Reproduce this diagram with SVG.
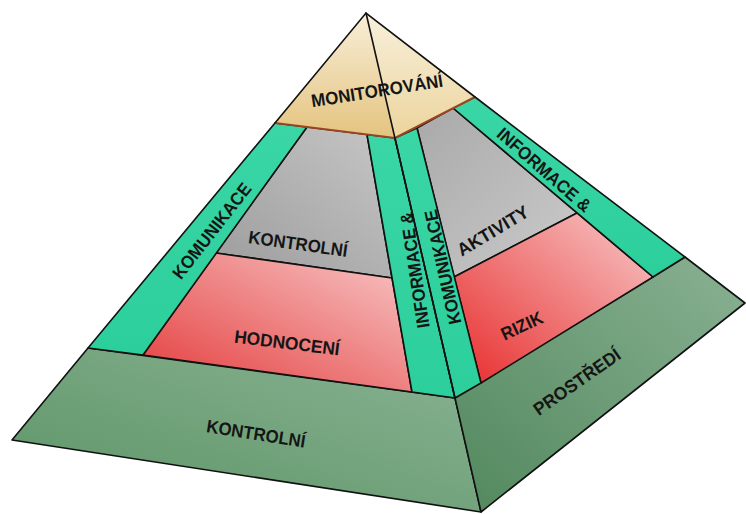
<svg xmlns="http://www.w3.org/2000/svg" width="746" height="514" viewBox="0 0 746 514">
<defs>
<linearGradient id="capL" x1="0" y1="0" x2="0" y2="1"><stop offset="0" stop-color="#f8eed8"/><stop offset="1" stop-color="#e4c37f"/></linearGradient>
<linearGradient id="capR" x1="0" y1="0" x2="0" y2="1"><stop offset="0" stop-color="#f8f0dc"/><stop offset="1" stop-color="#ecd49c"/></linearGradient>
<linearGradient id="greyL" x1="1" y1="0" x2="0" y2="1"><stop offset="0" stop-color="#c6c6c6"/><stop offset="1" stop-color="#9c9c9c"/></linearGradient>
<linearGradient id="greyR" x1="0" y1="0" x2="1" y2="1"><stop offset="0" stop-color="#a9a9a9"/><stop offset="1" stop-color="#cbcbcb"/></linearGradient>
<linearGradient id="redL" x1="0" y1="1" x2="1" y2="0"><stop offset="0" stop-color="#e43a3a"/><stop offset="1" stop-color="#f8c8c8"/></linearGradient>
<linearGradient id="redR" x1="0" y1="1" x2="1" y2="0"><stop offset="0" stop-color="#e82c2c"/><stop offset="1" stop-color="#f8caca"/></linearGradient>
<linearGradient id="baseF" x1="0" y1="1" x2="1" y2="0"><stop offset="0" stop-color="#5c9466"/><stop offset="1" stop-color="#8ab393"/></linearGradient>
<linearGradient id="baseR" x1="0" y1="1" x2="1" y2="0"><stop offset="0" stop-color="#52885d"/><stop offset="1" stop-color="#89b193"/></linearGradient>
<linearGradient id="strip" x1="0" y1="0" x2="0" y2="1"><stop offset="0" stop-color="#3ad6a6"/><stop offset="1" stop-color="#2ccf9b"/></linearGradient>
</defs>
<style>
.f{stroke:#111;stroke-width:1.6;stroke-linejoin:round}
.s{fill:url(#strip)}
.t{font-family:"Liberation Sans",Arial,sans-serif;font-weight:bold;fill:#151515;text-anchor:middle;dominant-baseline:central;font-size:18px}
.e{stroke:#111;stroke-width:1.6;fill:none;stroke-linecap:round}
</style>
<g id="base">
<polygon class="f" fill="url(#baseF)" points="88,348 455,398 481,512 12,440"/>
<polygon class="f" fill="url(#baseR)" points="455,398 685,257 745,303 481,512"/>
<text class="t" lengthAdjust="spacingAndGlyphs" textLength="100" transform="translate(256,434) rotate(9)">KONTROLNÍ</text>
<text class="t" font-size="19" lengthAdjust="spacingAndGlyphs" textLength="102" transform="translate(577,382) rotate(-35)">PROSTŘEDÍ</text>
</g>
<g id="left-face">
<polygon class="f" fill="url(#greyL)" points="307,127 367,134.5 392,278 216,253"/>
<polygon class="f" fill="url(#redL)" points="216,253 392,278 412,392 143,355"/>
<polygon class="f s" points="275,123 307,127 143,355 88,348"/>
<polygon class="f s" points="367,134.5 395,138 455,398 412,392"/>
<text class="t" lengthAdjust="spacingAndGlyphs" textLength="100" transform="translate(298,244) rotate(8)">KONTROLNÍ</text>
<text class="t" lengthAdjust="spacingAndGlyphs" textLength="106" transform="translate(287,343) rotate(7)">HODNOCENÍ</text>
<text class="t" lengthAdjust="spacingAndGlyphs" textLength="116" transform="translate(212,231) rotate(-52)">KOMUNIKACE</text>
<text class="t" lengthAdjust="spacingAndGlyphs" textLength="117" transform="translate(415,270) rotate(-98.6)">INFORMACE &amp;</text>
</g>
<g id="right-face">
<polygon class="f" fill="url(#greyR)" points="417,128 453,108 577,213 454,277"/>
<polygon class="f" fill="url(#redR)" points="454,277 577,213 653,277 481,383"/>
<polygon class="f s" points="395,138 417,128 481,383 455,398"/>
<polygon class="f s" points="453,108 475,97 685,257 653,277"/>
<text class="t" lengthAdjust="spacingAndGlyphs" textLength="117" transform="translate(443,267) rotate(-102.5)">KOMUNIKACE</text>
<text class="t" lengthAdjust="spacingAndGlyphs" textLength="118" transform="translate(544,170) rotate(41)">INFORMACE &amp;</text>
<text class="t" lengthAdjust="spacingAndGlyphs" textLength="80" transform="translate(493,231) rotate(-31)">AKTIVITY</text>
<text class="t" lengthAdjust="spacingAndGlyphs" textLength="44" transform="translate(522,326) rotate(-25)">RIZIK</text>
</g>
<g id="cap">
<polygon fill="url(#capL)" points="366,13 275,123 395,138"/>
<polygon fill="url(#capR)" points="366,13 395,138 475,97"/>
<polyline points="275,123 395,138 475,97" fill="none" stroke="#9a4424" stroke-width="2"/>
<polyline class="e" points="275,123 366,13 475,97"/>
<text class="t" font-size="19" lengthAdjust="spacingAndGlyphs" textLength="133" transform="translate(377,91) rotate(-9)">MONITOROVÁNÍ</text>
</g>
<g id="edges">
<line class="e" x1="366" y1="13" x2="455" y2="398"/>
</g>
</svg>
